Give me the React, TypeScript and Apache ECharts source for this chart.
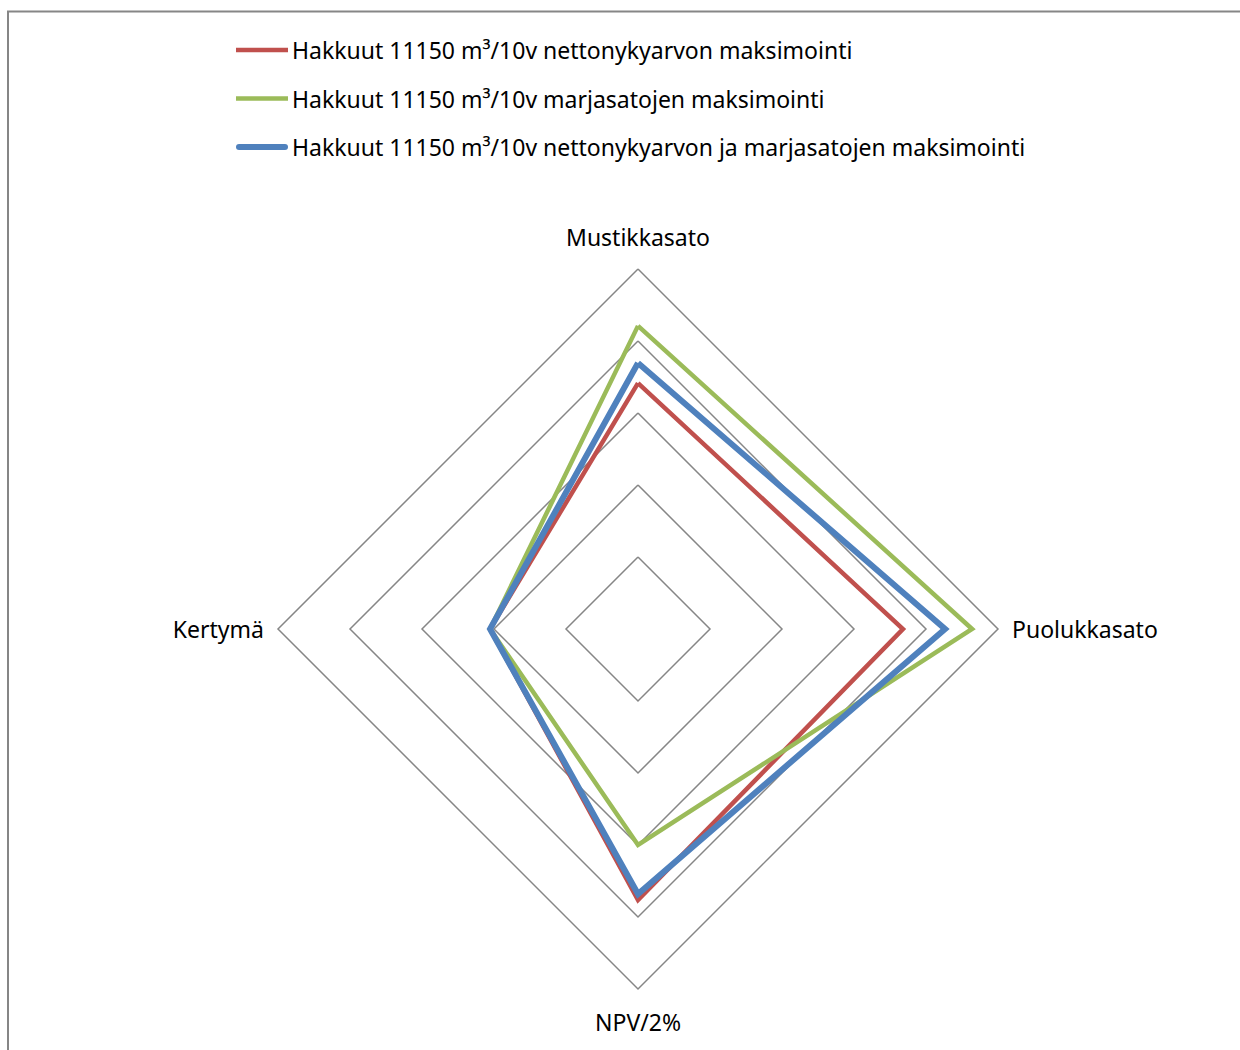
import React, { useEffect, useRef } from "react";
import * as echarts from "echarts";

// Radar axes, listed counter-clockwise from the top (ECharts' radar order)
const indicators = ["Mustikkasato", "Kertymä", "NPV/2%", "Puolukkasato"];
// Axes sitting at the top and bottom get extra vertical spacing for their names
const verticalAxes = ["Mustikkasato", "NPV/2%"];

const seriesNames = [
  "Hakkuut 11150 m³/10v nettonykyarvon maksimointi",
  "Hakkuut 11150 m³/10v marjasatojen maksimointi",
  "Hakkuut 11150 m³/10v nettonykyarvon ja marjasatojen maksimointi",
];

// Values per series, same order as indicators
const npvMax = [0.683, 0.411, 0.753, 0.736];
const berryMax = [0.842, 0.411, 0.6, 0.928];
const bothMax = [0.739, 0.411, 0.736, 0.853];

const seriesValues = [npvMax, berryMax, bothMax];
const seriesColors = ["#C0504D", "#9BBB59", "#4F81BD"];
const seriesWidths = [4.5, 4.5, 6];

const FONT = "'Noto Sans', 'Open Sans', sans-serif";
const FONT_SIZE = 23;

export default function App() {
  const ref = useRef<HTMLDivElement>(null);

  useEffect(() => {
    if (!ref.current) return;
    const chart = echarts.init(ref.current, null, { renderer: "svg" });

    const legendGraphics: any[] = [];
    seriesNames.forEach((name, i) => {
      const y = 50 + i * 48.5;
      const round = i === 2;
      legendGraphics.push({
        type: "line",
        shape: { x1: round ? 239 : 236, y1: y, x2: round ? 285 : 288, y2: y },
        style: {
          stroke: seriesColors[i],
          lineWidth: seriesWidths[i],
          lineCap: round ? "round" : "butt",
        },
      });
      legendGraphics.push({
        type: "text",
        x: 292,
        y,
        style: {
          text: name,
          fill: "#000",
          font: `${FONT_SIZE}px ${FONT}`,
          verticalAlign: "middle",
          align: "left",
        },
      });
    });

    chart.setOption({
      animation: false,
      backgroundColor: "#fff",
      graphic: [
        {
          type: "rect",
          shape: { x: 8, y: 11.5, width: 1260, height: 1060 },
          style: { fill: "none", stroke: "#868686", lineWidth: 2 },
          silent: true,
        },
        ...legendGraphics,
      ],
      radar: {
        center: [638, 629],
        radius: 360,
        startAngle: 90,
        shape: "polygon",
        splitNumber: 5,
        indicator: indicators.map((name) => ({ name, min: 0, max: 1 })),
        nameGap: 14,
        axisName: {
          color: "#000",
          fontSize: FONT_SIZE,
          fontFamily: FONT,
          formatter: (name: string) =>
            verticalAxes.includes(name) ? `{v|${name}}` : name,
          rich: {
            v: {
              color: "#000",
              fontSize: FONT_SIZE,
              fontFamily: FONT,
              padding: [7, 0, 7, 0],
            },
          },
        },
        axisLine: { show: false },
        axisTick: { show: false },
        axisLabel: { show: false },
        splitArea: { show: false },
        splitLine: { lineStyle: { color: "#868686", width: 1.5 } },
      },
      series: [
        {
          type: "radar",
          symbol: "none",
          data: seriesNames.map((name, i) => ({
            name,
            value: seriesValues[i],
            lineStyle: {
              color: seriesColors[i],
              width: seriesWidths[i],
              join: "miter",
            },
            itemStyle: { color: seriesColors[i] },
            areaStyle: { opacity: 0 },
          })),
        },
      ],
    });

    return () => chart.dispose();
  }, []);

  return (
    <div
      ref={ref}
      style={{ position: "absolute", left: 0, top: 0, width: 1240, height: 1050 }}
    />
  );
}
